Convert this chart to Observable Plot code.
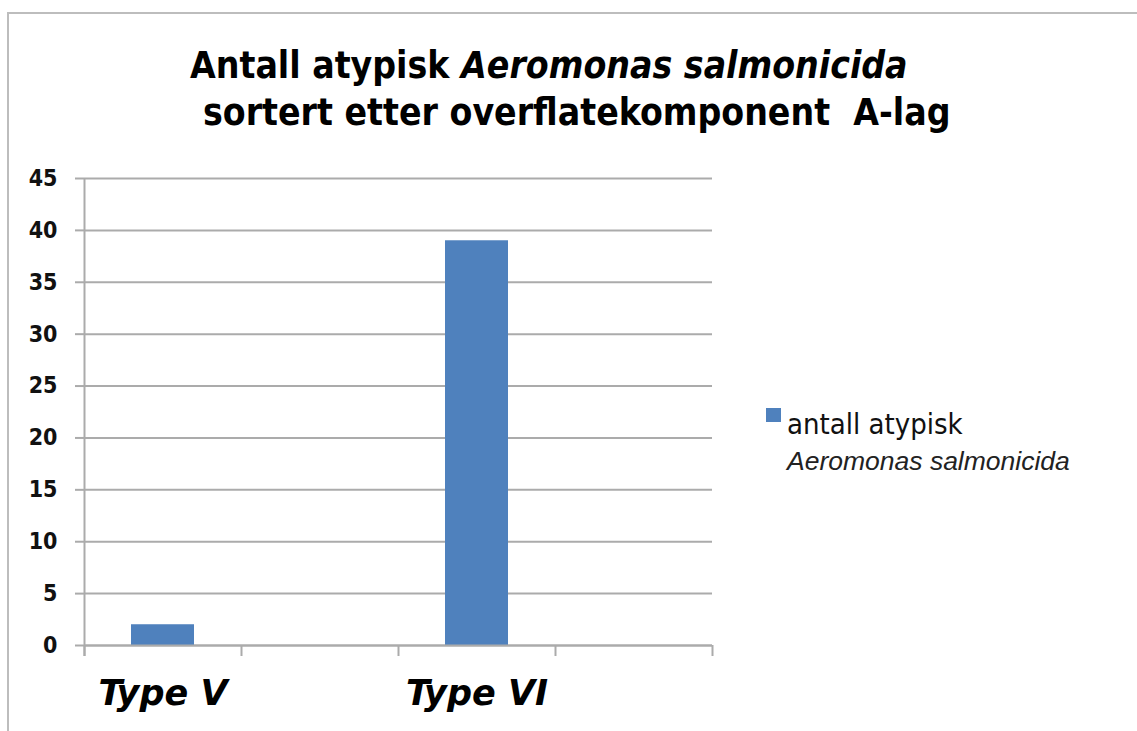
<!DOCTYPE html>
<html>
<head>
<meta charset="utf-8">
<script src="https://cdn.jsdelivr.net/npm/d3@7"></script>
<script src="https://cdn.jsdelivr.net/npm/@observablehq/plot@0.6"></script>
<style>
  html, body { margin: 0; padding: 0; background: #fff; }
  #wrap { position: relative; width: 1137px; height: 731px; overflow: hidden; background: #fff; }
  #frame { position: absolute; left: 7px; top: 12px; width: 1200px; height: 800px; border-left: 2px solid #bdbdbd; border-top: 2px solid #bdbdbd; }
  .layer { position: absolute; left: 0; top: 0; }
  .layer text { font-stretch: condensed; }
  .title { position: absolute; white-space: nowrap; font-family: "DejaVu Sans Condensed", "DejaVu Sans", sans-serif; font-stretch: condensed; font-weight: bold; font-size: 37px; line-height: 47px; color: #000; }
  .sw { position: absolute; left: 766px; top: 408px; width: 15px; height: 14px; background: #4f81bd; }
  .l1 { position: absolute; left: 787px; top: 410px; font-family: "DejaVu Sans Condensed", "DejaVu Sans", sans-serif; font-stretch: condensed; font-size: 29px; line-height: 29px; white-space: nowrap; color: #111; }
  .l2 { position: absolute; left: 787px; top: 448px; font-family: "Liberation Sans", Arial, sans-serif; font-style: italic; font-size: 26.5px; line-height: 26px; white-space: nowrap; color: #222; }
</style>
</head>
<body>
<div id="wrap">
  <div id="frame"></div>
  <div id="overlays">
    <div class="title" style="left:190px;top:42px">Antall atypisk <i>Aeromonas salmonicida</i></div>
    <div class="title" style="left:203px;top:89px">sortert etter overflatekomponent&nbsp; A-lag</div>
    <div class="sw"></div>
    <div class="l1">antall atypisk</div>
    <div class="l2">Aeromonas salmonicida</div>
  </div>
</div>
<script>
// Data
const categories = ["Type V", "gap1", "Type VI", "gap2"];
const categoryLabels = ["Type V", "", "Type VI", ""];
const values = [2, null, 39, null];
const yTicks = [0, 5, 10, 15, 20, 25, 30, 35, 40, 45];
const boundaryTicks = [0, 1, 2, 3, 4];

const data = categories.map((c, i) => ({cat: c, value: values[i]})).filter(d => d.value != null);

const W = 1137, H = 731;
const margins = {marginLeft: 84, marginRight: 425, marginTop: 178, marginBottom: 86};
const gridColor = "#ababab";

const main = Plot.plot({
  width: W, height: H, ...margins,
  style: {background: "transparent", overflow: "visible"},
  x: {type: "band", domain: categories, paddingInner: 0.6, paddingOuter: 0.3},
  y: {domain: [0, 45]},
  marks: [
    Plot.gridY(yTicks, {stroke: gridColor, strokeOpacity: 1, strokeWidth: 2}),
    Plot.axisY(yTicks, {tickSize: 9, stroke: gridColor, strokeWidth: 2, tickPadding: 18,
      fontSize: 23, fontWeight: "bold", fontFamily: "DejaVu Sans Condensed, DejaVu Sans, sans-serif", fill: "#111", label: null}),
    Plot.barY(data, {x: "cat", y: "value", fill: "#4f81bd"}),
    Plot.axisX(categories, {tickSize: 0, tickPadding: 35, label: null,
      tickFormat: (d) => categoryLabels[categories.indexOf(d)],
      fontSize: 35, fontWeight: "bold", fontStyle: "italic",
      fontFamily: "DejaVu Sans, sans-serif", fill: "#000"})
  ]
});
main.classList.add("layer");
// x labels use normal width
main.querySelectorAll("g[aria-label='x-axis tick label'] text").forEach(t => t.style.fontStretch = "normal");

const overlay = Plot.plot({
  width: W, height: H, ...margins,
  style: {background: "transparent", overflow: "visible"},
  x: {type: "linear", domain: [0, 4]},
  y: {domain: [0, 45], axis: null},
  marks: [
    Plot.ruleY([0], {stroke: gridColor, strokeWidth: 2}),
    Plot.ruleX([0], {stroke: gridColor, strokeWidth: 2, y1: 45, y2: 0, insetBottom: -11}),
    Plot.axisX(boundaryTicks, {tickSize: 11, stroke: gridColor, strokeWidth: 2, tickFormat: () => "", label: null})
  ]
});
overlay.classList.add("layer");

const wrap = document.getElementById("wrap");
const ov = document.getElementById("overlays");
wrap.insertBefore(main, ov);
wrap.insertBefore(overlay, ov);
</script>
</body>
</html>
